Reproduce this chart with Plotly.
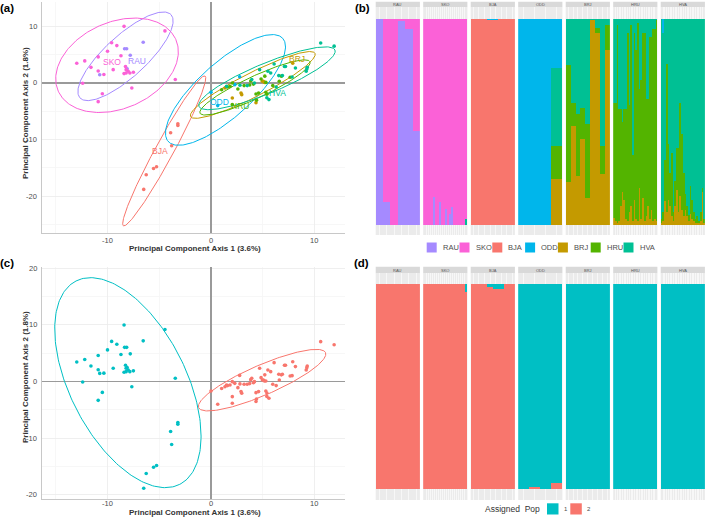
import numpy as np
import plotly.graph_objects as go

W, H = 709, 517
FONT = "Liberation Sans, Arial, sans-serif"

# ---------------- data ----------------
pops = ["RAU", "SKO", "BJA", "ODD", "BRJ", "HRU", "HVA"]
pop_colors = ["#A58AFF", "#FB61D7", "#F8766D", "#00B6EB", "#C49A00", "#53B400", "#00C094"]

# PCA scores (PC1, PC2) per sampled population
pc1_RAU = [-8.35, -8.15, -7.8, -6.55, -10.75, -8.1]
pc2_RAU = [6.05, 6.05, 4.9, 7.2, 1.45, 2.5]
pc1_SKO = [-12.97, -12.2, -12.4, -11.6, -10.9, -10.9, -10.35, -10.9, -10.5, -10.0, -9.6, -9.45, -9.1,
           -8.7, -8.4, -8.26, -8.0, -8.2, -8.4, -7.84, -7.5, -7.65, -4.45, -3.45, -8.2]
pc2_SKO = [3.47, 3.9, -0.06, 2.76, 4.6, 2.1, 1.5, -3.3, -1.9, 5.6, 7.1, 2.35, 6.6,
           4.8, 10.0, 2.9, 2.06, 1.76, 1.65, 1.76, 1.9, -0.9, 9.2, 0.6, 2.35]
pc1_BJA = [-3.9, -3.8, -3.2, -3.2, -5.26, -5.55, -6.26, -6.5]
pc2_BJA = [-8.8, -11.1, -7.2, -7.5, -14.8, -15.1, -16.2, -18.8]
pc1_ODD = [0.0, 0.65, 2.77, 2.3]
pc2_ODD = [-1.65, -4.0, 1.1, -0.3]
pc1_BRJ = [1.35, 2.06, 2.9, 2.97, 4.35, 4.97, 5.06, 5.16, 7.9]
pc2_BRJ = [-0.9, -2.65, -1.76, -2.06, -3.5, 0.3, 0.3, 0.1, 3.5]
pc1_HRU = [1.03, 1.6, 1.84, 2.06, 2.06, 2.6, 3.2, 3.74, 3.84, 4.1, 4.35, 4.4, 4.6, 4.84, 5.3, 5.2,
           5.3, 5.4, 5.97, 6.6, 6.8, 7.65]
pc2_HRU = [-1.2, -0.7, -0.6, 0.0, -3.8, -1.06, -0.47, -0.35, 0.35, -0.2, -1.94, -3.06, -1.76, 0.7,
           0.1, 1.2, -1.65, -2.0, -0.47, 0.3, 1.2, 1.0]
pc1_HVA = [10.6, 11.9, 9.2, 9.3, 9.26, 8.16, 7.1, 7.2, 6.1, 5.5, 5.77, 6.9, 7.84, 4.7, 3.94, 6.55,
           5.6, 5.4, 1.5, 2.8, 4.2, 6.3, 3.5]
pc2_HVA = [7.06, 6.5, 2.06, 2.76, 2.47, 2.65, 2.9, 2.9, 3.35, 2.06, 1.76, 1.3, 1.06, 2.35, 0.6, 1.3,
           -2.94, -2.6, -0.6, -0.4, 0.0, -0.7, -0.47]

pc1 = dict(RAU=pc1_RAU, SKO=pc1_SKO, BJA=pc1_BJA, ODD=pc1_ODD, BRJ=pc1_BRJ, HRU=pc1_HRU, HVA=pc1_HVA)
pc2 = dict(RAU=pc2_RAU, SKO=pc2_SKO, BJA=pc2_BJA, ODD=pc2_ODD, BRJ=pc2_BRJ, HRU=pc2_HRU, HVA=pc2_HVA)

# 95% ellipses per population: centre and two conjugate semi-diameters (data units)
ell_cx = [-8.26, -9.08, -4.52, 1.40, 4.04, 4.25, 5.41]
ell_cy = [4.71, 3.12, -12.0, -1.23, -0.35, -0.79, 0.83]
ell_ax = [4.40, 5.68, 3.94, 5.53, 6.01, 5.31, 6.57]
ell_ay = [7.35, 4.57, 13.23, 9.12, 5.59, 4.55, 4.99]
ell_bx = [1.35, 1.69, 0.77, 1.75, 0.53, 0.45, 0.56]
ell_by = [-2.70, -6.98, -0.76, -3.53, -1.89, -1.76, -2.44]
label_x = [-7.19, -9.52, -4.94, 0.87, 8.29, 2.8, 6.42]
label_y = [3.9, 3.78, -12.0, -3.3, 4.19, -4.07, -1.83]

# panel (c): two genetic clusters
clusters = ["1", "2"]
cluster_members = [["RAU", "SKO", "BJA"], ["ODD", "BRJ", "HRU", "HVA"]]
cluster_colors = ["#00BFC4", "#F8766D"]
c_ell_cx = [-8.03, 4.94]
c_ell_cy = [-0.18, 0.26]
c_ell_ax = [-5.01, 6.13]
c_ell_ay = [17.94, 4.86]
c_ell_bx = [4.99, 0.58]
c_ell_by = [4.62, -2.43]

x_ticks = [-10, 0, 10]
x_ticklabels = ["-10", "0", "10"]
ya_ticks = [-20, -10, 0, 10]
ya_ticklabels = ["-20", "-10", "0", "10"]
yc_ticks = [-20, -10, 0, 10, 20]
yc_ticklabels = ["-20", "-10", "0", "10", "20"]

# panel (b): admixture proportions (K = 7), per sampled population
q_RAU = dict(RAU=[1.0, 0.11, 0.0, 0.987, 0.95, 0.457],
             SKO=[0.0, 0.89, 1.0, 0.013, 0.05, 0.543])
sko_rau = [0, 0, 0, 0, 0, 0.136, 0, 0, 0.11, 0, 0, 0.074, 0, 0.05, 0.087, 0, 0, 0, 0, 0, 0, 0]
sko_hva = [0] * 21 + [0.03]
q_SKO = dict(RAU=sko_rau, HVA=sko_hva,
             SKO=[1 - a - b for a, b in zip(sko_rau, sko_hva)])
q_BJA = dict(BJA=[1, 1, 1, 0.994, 0.994, 1, 1, 1],
             ODD=[0, 0, 0, 0.006, 0.006, 0, 0, 0])
q_ODD = dict(BRJ=[0, 0, 0, 0.22], HRU=[0, 0, 0, 0.16], HVA=[0, 0, 0, 0.38], ODD=[1, 1, 1, 0.24])
brj_hva = [0.223, 0.409, 0.465, 0.433, 0.509, 0.005, 0.045, 0.619, 0.029]
brj_hru = [0.570, 0.110, 0.299, 0.153, 0.360, 0.0, 0.024, 0.137, 0.121]
q_BRJ = dict(BRJ=[1 - a - b for a, b in zip(brj_hva, brj_hru)], HRU=brj_hru, HVA=brj_hva)
hru_hva = [0.41, 0.41, 0.03, 0.44, 0.44, 0.50, 0.44, 0.44, 0.07, 0.42, 0.03, 0.66, 0.07, 0.15, 0.02,
           0.34, 0.30, 0.07, 0.07, 0.39, 0.39, 0.09, 0.09, 0.05, 0.05, 0.005]
hru_brj = [0.034, 0.02, 0.01, 0.02, 0.09, 0.16, 0.12, 0.03, 0.02, 0.06, 0.09, 0.02, 0.12, 0.03, 0.02,
           0.18, 0.03, 0.13, 0.02, 0.04, 0.09, 0.03, 0.07, 0.02, 0.03, 0.02]
q_HRU = dict(BRJ=hru_brj, HRU=[1 - a - b for a, b in zip(hru_hva, hru_brj)], HVA=hru_hva)
hva_odd = [0, 0.07] + [0] * 24
hva_hru = [0.016, 0.04, 0.20, 0.72, 0.27, 0.16, 0.31, 0.04, 0.12, 0.20, 0.31, 0.45, 0.37, 0.21, 0.08,
           0.05, 0.025, 0.14, 0.09, 0.04, 0.02, 0.03, 0.01, 0.04, 0.02, 0.02]
hva_brj = [0.01, 0.02, 0.115, 0.06, 0.12, 0.09, 0.04, 0.02, 0.09, 0.17, 0.06, 0.14, 0.07, 0.04, 0.07,
           0.04, 0.02, 0.05, 0.03, 0.02, 0.01, 0.01, 0.01, 0.02, 0.16, 0.01]
q_HVA = dict(BRJ=hva_brj, HRU=hva_hru, ODD=hva_odd,
             HVA=[1 - a - b - c for a, b, c in zip(hva_odd, hva_hru, hva_brj)])
q_all = [q_RAU, q_SKO, q_BJA, q_ODD, q_BRJ, q_HRU, q_HVA]
stack_order = ["RAU", "BRJ", "HRU", "HVA", "BJA", "SKO", "ODD"]  # bottom -> top

# panel (d): assignment to two populations (fraction assigned to Pop 2)
d_pop2_RAU = [1.0] * 6
d_pop2_SKO = [1.0] * 21 + [0.964]
d_pop2_BJA = [1.0, 1.0, 1.0, 0.988, 0.978, 0.978, 1.0, 1.0]
d_pop2_ODD = [0.0, 0.013, 0.0, 0.03]
d_pop2_BRJ = [0, 0, 0, 0, 0, 0, 0.003, 0, 0]
d_pop2_HRU = [0.0] * 26
d_pop2_HVA = [0.0] * 11 + [0.004] + [0.0] * 14
d_pop2_all = [d_pop2_RAU, d_pop2_SKO, d_pop2_BJA, d_pop2_ODD, d_pop2_BRJ, d_pop2_HRU, d_pop2_HVA]
assign_labels = ["1", "2"]
assign_colors = ["#00BFC4", "#F8766D"]

# ---------------- helpers ----------------
def fx(px):
    return px / W

def fy(py):
    return 1 - py / H

def ellipse(cx, cy, ax_, ay_, bx_, by_):
    t = np.linspace(0, 2 * np.pi, 241)
    return cx + np.cos(t) * ax_ + np.sin(t) * bx_, cy + np.cos(t) * ay_ + np.sin(t) * by_

fig = go.Figure()
shapes, annotations = [], []

# ---------------- panel (a) ----------------
for i, p in enumerate(pops):
    ex, ey = ellipse(ell_cx[i], ell_cy[i], ell_ax[i], ell_ay[i], ell_bx[i], ell_by[i])
    fig.add_trace(go.Scatter(x=ex, y=ey, mode="lines", line=dict(color=pop_colors[i], width=1),
                             xaxis="x", yaxis="y", showlegend=False, hoverinfo="skip"))
for i, p in enumerate(pops):
    fig.add_trace(go.Scatter(x=pc1[p], y=pc2[p], mode="markers",
                             marker=dict(color=pop_colors[i], size=3.6), xaxis="x", yaxis="y",
                             showlegend=False, name=p))
    annotations.append(dict(x=label_x[i], y=label_y[i], xref="x", yref="y", text=p, showarrow=False,
                            font=dict(family=FONT, size=8.5, color=pop_colors[i])))

# ---------------- panel (c) ----------------
for k in range(2):
    ex, ey = ellipse(c_ell_cx[k], c_ell_cy[k], c_ell_ax[k], c_ell_ay[k], c_ell_bx[k], c_ell_by[k])
    fig.add_trace(go.Scatter(x=ex, y=ey, mode="lines", line=dict(color=cluster_colors[k], width=1),
                             xaxis="x2", yaxis="y2", showlegend=False, hoverinfo="skip"))
for k in range(2):
    xs = [v for p in cluster_members[k] for v in pc1[p]]
    ys = [v for p in cluster_members[k] for v in pc2[p]]
    fig.add_trace(go.Scatter(x=xs, y=ys, mode="markers", marker=dict(color=cluster_colors[k], size=3.6),
                             xaxis="x2", yaxis="y2", showlegend=False, name=clusters[k]))

tick_font = dict(family=FONT, size=7.5, color="#4D4D4D")
pca_common = dict(showgrid=True, gridcolor="#EBEBEB", gridwidth=0.8, zeroline=True,
                  zerolinecolor="#9A9A9A", zerolinewidth=1.6, showline=True, linecolor="#C8C8C8",
                  linewidth=1, ticks="", showticklabels=False, fixedrange=True)
layout_axes = {}
layout_axes["xaxis"] = dict(domain=[fx(42), fx(345)], range=[-16.33, 12.95], anchor="y",
                            tickvals=x_ticks,
                            minor=dict(showgrid=True, gridcolor="#F5F5F5", tickvals=[-15, -5, 5]),
                            **pca_common)
layout_axes["yaxis"] = dict(domain=[fy(233), fy(2)], range=[-26.5, 14.3], anchor="x",
                            tickvals=ya_ticks,
                            minor=dict(showgrid=True, gridcolor="#F5F5F5", tickvals=[-25, -15, -5, 5]),
                            **pca_common)
layout_axes["xaxis2"] = dict(domain=[fx(42), fx(345)], range=[-16.33, 12.95], anchor="y2",
                             tickvals=x_ticks,
                             minor=dict(showgrid=True, gridcolor="#F5F5F5", tickvals=[-15, -5, 5]),
                             **pca_common)
layout_axes["yaxis2"] = dict(domain=[fy(499.3), fy(266.7)], range=[-20.76, 20.28], anchor="x2",
                             tickvals=yc_ticks,
                             minor=dict(showgrid=True, gridcolor="#F5F5F5", tickvals=[-15, -5, 5, 15]),
                             **pca_common)

# tick labels placed at data positions
for xr, ty in [("x", 240.5), ("x2", 503.5)]:
    for v, lab in zip(x_ticks, x_ticklabels):
        annotations.append(dict(x=v, y=fy(ty), xref=xr, yref="paper", text=lab, showarrow=False,
                                xanchor="center", yanchor="middle", font=tick_font))
for yr, vals, labs in [("y", ya_ticks, ya_ticklabels), ("y2", yc_ticks, yc_ticklabels)]:
    for v, lab in zip(vals, labs):
        annotations.append(dict(x=fx(38.5), y=v, xref="paper", yref=yr, text=lab, showarrow=False,
                                xanchor="right", yanchor="middle", font=tick_font))

title_font = dict(family=FONT, size=8, color="#333333")
for (cx_, cy_, tx, ang) in [(195, 248.5, "<b>Principal Component Axis 1 (3.6%)</b>", 0),
                            (25, 113, "<b>Principal Component Axis 2 (1.8%)</b>", -90),
                            (195, 512, "<b>Principal Component Axis 1 (3.6%)</b>", 0),
                            (25, 377, "<b>Principal Component Axis 2 (1.8%)</b>", -90)]:
    annotations.append(dict(x=fx(cx_), y=fy(cy_), xref="paper", yref="paper", text=tx, textangle=ang,
                            showarrow=False, font=title_font, xanchor="center", yanchor="middle"))

# ---------------- panels (b) and (d): faceted bars ----------------
facet_x0, facet_step, facet_w = 375.7, 47.5, 44.2
panels = [dict(first=3, strip=(1.7, 7.3), area=(7.3, 235.0), yr=[-0.05, 1.055]),
          dict(first=10, strip=(266.7, 273.3), area=(273.3, 500.0), yr=[-0.052, 1.054])]

for pi, pan in enumerate(panels):
    for i, p in enumerate(pops):
        ax_id = pan["first"] + i
        xa, ya = f"x{ax_id}", f"y{ax_id}"
        if pi == 0:
            q = q_all[i]
            n = len(next(iter(q.values())))
            for comp in stack_order:
                if comp in q:
                    fig.add_trace(go.Bar(x=list(range(n)), y=q[comp], width=1,
                                         marker=dict(color=pop_colors[pops.index(comp)], line=dict(width=0)),
                                         xaxis=xa, yaxis=ya, showlegend=False, hoverinfo="skip"))
        else:
            p2 = d_pop2_all[i]
            n = len(p2)
            p1 = [1 - v for v in p2]
            fig.add_trace(go.Bar(x=list(range(n)), y=p2, width=1,
                                 marker=dict(color=assign_colors[1], line=dict(width=0)),
                                 xaxis=xa, yaxis=ya, showlegend=False, hoverinfo="skip"))
            fig.add_trace(go.Bar(x=list(range(n)), y=p1, width=1,
                                 marker=dict(color=assign_colors[0], line=dict(width=0)),
                                 xaxis=xa, yaxis=ya, showlegend=False, hoverinfo="skip"))
        x0 = facet_x0 + facet_step * i
        layout_axes[f"xaxis{ax_id}"] = dict(domain=[fx(x0), fx(x0 + facet_w)], range=[-0.5, n - 0.5],
                                            anchor=ya, showticklabels=False, ticks="",
                                            tickvals=list(range(n)), showgrid=True, gridcolor="#FFFFFF",
                                            gridwidth=0.6, zeroline=False, showline=False, fixedrange=True)
        layout_axes[f"yaxis{ax_id}"] = dict(domain=[fy(pan["area"][1]), fy(pan["area"][0])],
                                            range=pan["yr"], anchor=xa, showticklabels=False,
                                            showgrid=False, zeroline=False, showline=False, ticks="",
                                            fixedrange=True)
        shapes.append(dict(type="rect", xref=f"{xa} domain", yref=f"{ya} domain", x0=0, x1=1, y0=0, y1=1,
                           fillcolor="#EBEBEB", line=dict(width=0), layer="below"))
        shapes.append(dict(type="rect", xref=f"{xa} domain", yref="paper", x0=0, x1=1,
                           y0=fy(pan["strip"][1]), y1=fy(pan["strip"][0]),
                           fillcolor="#D9D9D9", line=dict(width=0), layer="below"))
        annotations.append(dict(x=fx(x0 + facet_w / 2), y=fy((pan["strip"][0] + pan["strip"][1]) / 2),
                                xref="paper", yref="paper", text=p, showarrow=False,
                                font=dict(family=FONT, size=4, color="#555555"),
                                xanchor="center", yanchor="middle"))

# legend for (b)
leg_x0, leg_step, leg_y = 426.7, 32.8, 247.5
for i, p in enumerate(pops):
    sx = leg_x0 + leg_step * i
    shapes.append(dict(type="rect", xref="paper", yref="paper", x0=fx(sx), x1=fx(sx + 10),
                       y0=fy(leg_y + 5), y1=fy(leg_y - 5), fillcolor=pop_colors[i], line=dict(width=0)))
    annotations.append(dict(x=fx(sx + 14), y=fy(leg_y), xref="paper", yref="paper", text=p,
                            showarrow=False, xanchor="left", yanchor="middle",
                            font=dict(family=FONT, size=7.5, color="#4D4D4D")))

# legend for (d)
annotations.append(dict(x=fx(542), y=fy(509), xref="paper", yref="paper", text="Assigned  Pop",
                        showarrow=False, xanchor="right", yanchor="middle",
                        font=dict(family=FONT, size=8.5, color="#333333")))
for k, lab in enumerate(assign_labels):
    sx = 547 + 23.3 * k
    shapes.append(dict(type="rect", xref="paper", yref="paper", x0=fx(sx), x1=fx(sx + 11.5),
                       y0=fy(514.5), y1=fy(503.3), fillcolor=assign_colors[k], line=dict(width=0)))
    annotations.append(dict(x=fx(sx + 15), y=fy(509), xref="paper", yref="paper", text=lab,
                            showarrow=False, xanchor="left", yanchor="middle",
                            font=dict(family=FONT, size=6, color="#4D4D4D")))

# panel letters
for (lx, ly, t) in [(7.5, 7.5, "(a)"), (362.5, 7.5, "(b)"), (7.5, 263, "(c)"), (361.5, 263, "(d)")]:
    annotations.append(dict(x=fx(lx), y=fy(ly), xref="paper", yref="paper", text=f"<b>{t}</b>",
                            showarrow=False, xanchor="center", yanchor="middle",
                            font=dict(family=FONT, size=11.5, color="#000000")))

fig.update_layout(width=W, height=H, margin=dict(l=0, r=0, t=0, b=0), paper_bgcolor="white",
                  plot_bgcolor="white", showlegend=False, barmode="stack", bargap=0,
                  hovermode=False, shapes=shapes, annotations=annotations, **layout_axes)
fig.write_html("out.html", config={"displayModeBar": False, "staticPlot": True},
               post_script="document.body.style.margin='0';document.body.style.overflow='hidden';")
